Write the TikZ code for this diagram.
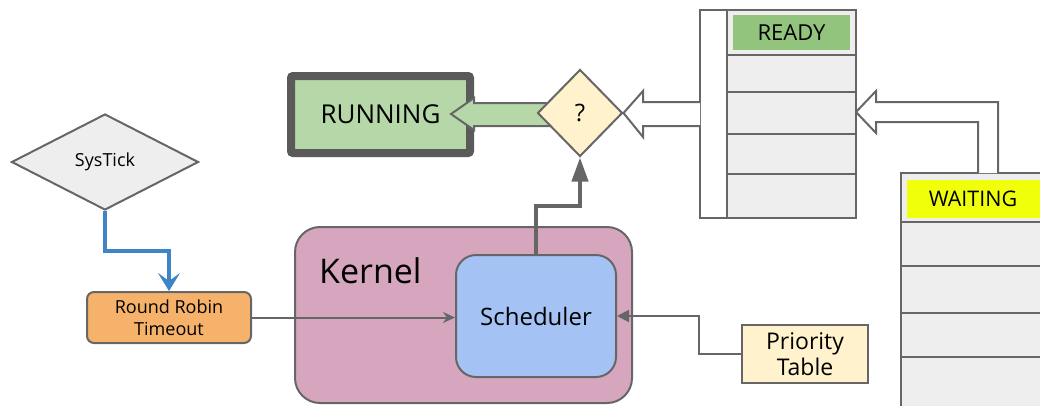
\documentclass[tikz,border=0pt]{standalone}
\usepackage{fontspec}
\setmainfont{Open Sans}
\usetikzlibrary{shapes.geometric,arrows.meta,calc}

\definecolor{edge}{HTML}{666666}
\definecolor{darkedge}{HTML}{5A5A5A}
\definecolor{runfill}{HTML}{B6D7A8}
\definecolor{qfill}{HTML}{FFF2CC}
\definecolor{kernfill}{HTML}{D5A6BD}
\definecolor{schedfill}{HTML}{A4C2F4}
\definecolor{rrfill}{HTML}{F6B26B}
\definecolor{cellfill}{HTML}{EEEEEE}
\definecolor{readyfill}{HTML}{93C47D}
\definecolor{waitfill}{HTML}{F0FF0A}
\definecolor{tickblue}{HTML}{3D85C6}

\newcommand{\fsz}[2]{\fontsize{#1}{#2}\selectfont}

\tikzset{
  box/.style={draw=edge, line width=2pt, inner sep=0pt, align=center},
  decision/.style={box, shape=diamond, aspect=1},
  cell/.style={draw=edge, line width=2pt, fill=cellfill},
  wire/.style={draw=edge, line width=2pt},
  blockarrow/.style={draw=edge, line width=2pt, line join=miter},
}

\begin{document}
\begin{tikzpicture}[x=1pt,y=-1pt]
\useasboundingbox (0,0) rectangle (1040,405);

% ---- kernel with scheduler ----
\node[box, fill=kernfill, rounded corners=25pt, minimum width=337pt, minimum height=176pt] (kernel) at (463.5,315) {};
\node[anchor=base west, inner sep=0pt, font=\fsz{34}{40}] (kernlbl) at (319,283) {Kernel};
\node[box, fill=schedfill, rounded corners=20pt, minimum width=160pt, minimum height=122pt, font=\fsz{24}{28}] (sched) at (536,316) {Scheduler};

% ---- SysTick and round robin timeout ----
\node[decision, fill=cellfill, minimum width=187pt, minimum height=96pt, font=\fsz{18}{22}] (systick) at (105,162) {SysTick};
\node[box, fill=rrfill, rounded corners=7pt, minimum width=164pt, minimum height=51pt, font=\fsz{18}{22}] (rr) at (169,317.5)
  {Round Robin\\Timeout};
\draw[draw=tickblue, line width=3.5pt, -{Stealth[length=18pt,width=22pt,inset=8pt]}]
  (systick.south) -- ($(systick.south)+(0,40)$) -| (rr.north);

% ---- priority table ----
\node[box, fill=qfill, minimum width=126pt, minimum height=58pt, font=\fsz{23}{26}] (prio) at (805,354)
  {Priority\\Table};

% ---- connectors into the scheduler ----
\draw[wire, -{Stealth[length=12pt,width=11pt]}] (rr.east) -- (rr.east -| sched.west);
\draw[wire, -{Triangle[length=12pt,width=12pt]}] (prio.west) -- ($(prio.west)+(-42,0)$) |- (sched.east);

% ---- running state ----
\node[draw=darkedge, line width=8pt, fill=runfill, rounded corners=2pt, inner sep=0pt,
      minimum width=179pt, minimum height=77pt, font=\fsz{26}{30}] (running) at (380.5,114.5) {RUNNING};

% ---- decision ----
\coordinate (qc) at (580,113);

% green block arrow from the decision into the running state
\path[blockarrow, fill=runfill]
  ($(qc)+(-30,-10)$) -- (474,103) -- (474,98) -- (451,114) -- (474,130) -- (474,126)
  -- ($(qc)+(-30,13)$) -- cycle;
\node[decision, fill=qfill, minimum width=85pt, minimum height=87pt, font=\fsz{24}{28}] (q) at (qc) {?};

% ---- READY queue ----
\draw[line width=2pt, draw=edge, fill=white] (700,10) rectangle (727,218);
\coordinate (readybar) at (700,114);
\draw[cell] (727,10) rectangle (856,55);
\draw[cell] (727,55) rectangle (856,92);
\draw[cell] (727,92) rectangle (856,134);
\draw[cell] (727,134) rectangle (856,174);
\draw[cell] (727,174) rectangle (856,218);
\node[fill=readyfill, minimum width=117pt, minimum height=35pt, inner sep=0pt, font=\fsz{22}{26}] (ready) at (791.5,32.5) {READY};
\coordinate (readyside) at (856,112);

% ---- WAITING queue ----
\draw[cell] (901,173) rectangle (1050,222);
\draw[cell] (901,222) rectangle (1050,266);
\draw[cell] (901,266) rectangle (1050,313);
\draw[cell] (901,313) rectangle (1050,357);
\draw[cell] (901,357) rectangle (1050,410);
\node[fill=waitfill, anchor=north west, minimum width=140pt, minimum height=38pt, inner sep=0pt] (waitbox) at (907,180) {};
\node[inner sep=0pt, font=\fsz{21.5}{26}] (waiting) at (973,199) {WAITING};
\coordinate (waittop) at (988,173);

% hollow arrow: READY queue to the decision
\fill[white] (readybar |- 0,102) -- (643,102) -- (643,91) -- (q.east) -- (643,137) -- (643,126) -- (readybar |- 0,126) -- cycle;
\draw[blockarrow] (readybar |- 0,102) -- (643,102) -- (643,91) -- (q.east) -- (643,137) -- (643,126) -- (readybar |- 0,126);

% hollow arrow: WAITING queue back to READY queue
\fill[white] ($(waittop)+(10,0)$) -- (998,102) -- (876,102) -- (876,91) -- (readyside) -- (876,133) -- (876,122) -- (978,122) -- ($(waittop)+(-10,0)$) -- cycle;
\draw[blockarrow] ($(waittop)+(10,0)$) -- (998,102) -- (876,102) -- (876,91) -- (readyside) -- (876,133) -- (876,122) -- (978,122) -- ($(waittop)+(-10,0)$);

% ---- scheduler selects the next task ----
\draw[draw=edge, line width=4pt, -{Triangle[length=24pt,width=16pt]}]
  (sched.north) -- ($(sched.north)+(0,-48)$) -| (q.south);
\end{tikzpicture}
\end{document}
